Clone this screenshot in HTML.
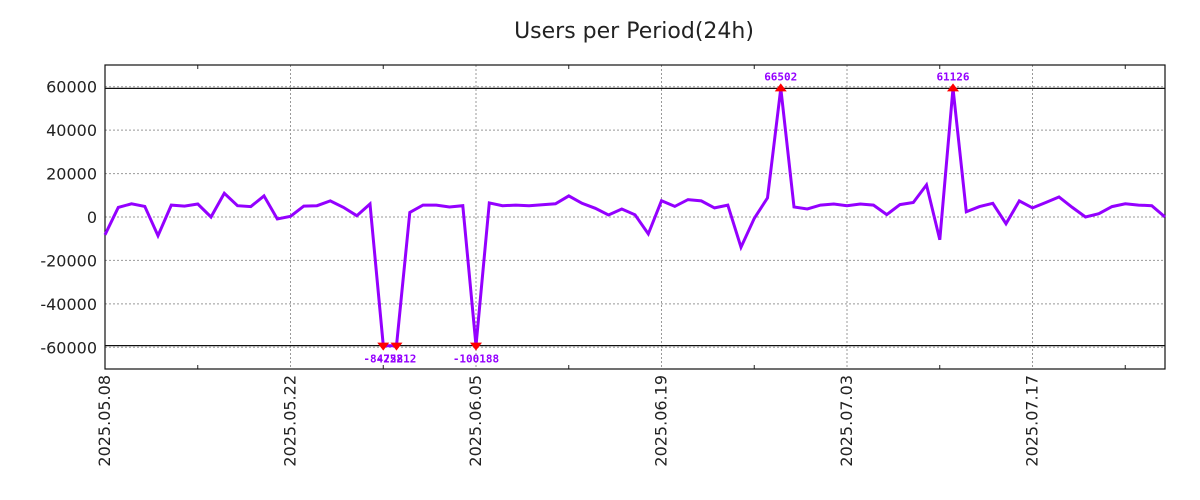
<!DOCTYPE html>
<html><head><meta charset="utf-8"><style>
html,body{margin:0;padding:0;background:#fff;}
svg{display:block;font-family:"DejaVu Sans","Liberation Sans",sans-serif;}
</style></head><body>
<svg id="chart" width="1200" height="500" xmlns="http://www.w3.org/2000/svg">
<text x="634" y="38" font-size="22" text-anchor="middle" fill="#222">Users per Period(24h)</text>
<g id="grid"></g><g id="axes"></g><g id="series"></g><g id="marks"></g>
</svg>
<script>
const values = [-8200,4400,6100,4900,-8600,5500,5000,6000,0,10900,5200,4800,9700,-900,300,5000,5200,7400,4400,600,6000,-84222,-75812,2100,5500,5500,4600,5200,-100188,6500,5200,5500,5200,5600,6100,9700,6300,4000,900,3700,1000,-7800,7500,4900,8000,7400,4200,5500,-13900,-600,8800,66502,4600,3700,5500,6000,5200,6000,5500,1100,5700,6700,14800,-10500,61126,2400,4800,6300,-3100,7400,4200,6700,9200,4400,0,1500,4800,6100,5500,5200,0];
const yTicks = [60000,40000,20000,0,-20000,-40000,-60000];
const xTickLabels = ["2025.05.08","2025.05.22","2025.06.05","2025.06.19","2025.07.03","2025.07.17"];
const xTickDays = [0,14,28,42,56,70];
const minorDays = [7,21,35,49,63,77];
const clipLimit = 59250;

const NS="http://www.w3.org/2000/svg";
const L=105,R=1165,T=65,B=369,dayMax=80,yMin=-70000,yMax=70000;
const xs=d=>L+(R-L)*d/dayMax;
const ys=v=>B-(B-T)*(v-yMin)/(yMax-yMin);
function mk(tag,attrs,parent,txt){const e=document.createElementNS(NS,tag);for(const k in attrs)e.setAttribute(k,attrs[k]);if(txt!==undefined)e.textContent=txt;parent.appendChild(e);return e;}
const grid=document.getElementById('grid'),axes=document.getElementById('axes'),series=document.getElementById('series'),marks=document.getElementById('marks');

yTicks.forEach(v=>{
  const g=mk('line',{x1:L,x2:R,y1:ys(v),y2:ys(v),stroke:'#999','stroke-dasharray':'2,2','stroke-width':1},grid);
  
  
  const t=mk('text',{x:97,y:ys(v)+6,'font-size':16,'text-anchor':'end',fill:'#222'},axes,String(v));
  
  
});
xTickDays.forEach((d,i)=>{
  const g=mk('line',{x1:xs(d),x2:xs(d),y1:T,y2:B,stroke:'#999','stroke-dasharray':'2,2','stroke-width':1},grid);
  
  
  const t=mk('text',{transform:`translate(${xs(d)+5},${B+6}) rotate(-90)`,'font-size':16,'text-anchor':'end',fill:'#222'},axes,xTickLabels[i]);
  
  
});
minorDays.forEach(d=>{
  const a=mk('line',{x1:xs(d),x2:xs(d),y1:T,y2:T+4,stroke:'#222'},axes);
  
  
  const b=mk('line',{x1:xs(d),x2:xs(d),y1:B-4,y2:B,stroke:'#222'},axes);
  
  
});
[clipLimit,-clipLimit].forEach(v=>{
  const c=mk('line',{x1:L,x2:R,y1:ys(v),y2:ys(v),stroke:'#111','stroke-width':1.2},grid);
  
  
});
const frame=mk('rect',{x:L,y:T,width:R-L,height:B-T,fill:'none',stroke:'#111','stroke-width':1.2},axes);



const clip=v=>Math.max(-clipLimit,Math.min(clipLimit,v));
const pts=values.map((v,i)=>xs(i).toFixed(1)+','+ys(clip(v)).toFixed(1)).join(' ');
const line=mk('polyline',{points:pts,fill:'none',stroke:'#9400ff','stroke-width':3,'stroke-linejoin':'miter'},series);



values.forEach((v,i)=>{
  if(Math.abs(v)<=clipLimit)return;
  const x=xs(i),up=v>0,y=ys(clip(v));
  const tri=up?`${x-6},${y+3} ${x+6},${y+3} ${x},${y-5}`:`${x-6},${y-3} ${x+6},${y-3} ${x},${y+5}`;
  const p=mk('polygon',{points:tri,fill:'#ff0000'},marks);
  
  
  const t=mk('text',{x:x,y:up?y-8:y+17,'font-size':11,'font-weight':'bold','font-family':'"DejaVu Sans Mono","Liberation Mono",monospace','text-anchor':'middle',fill:'#9400ff'},marks,String(v));
  
  
});
</script>
</body></html>
